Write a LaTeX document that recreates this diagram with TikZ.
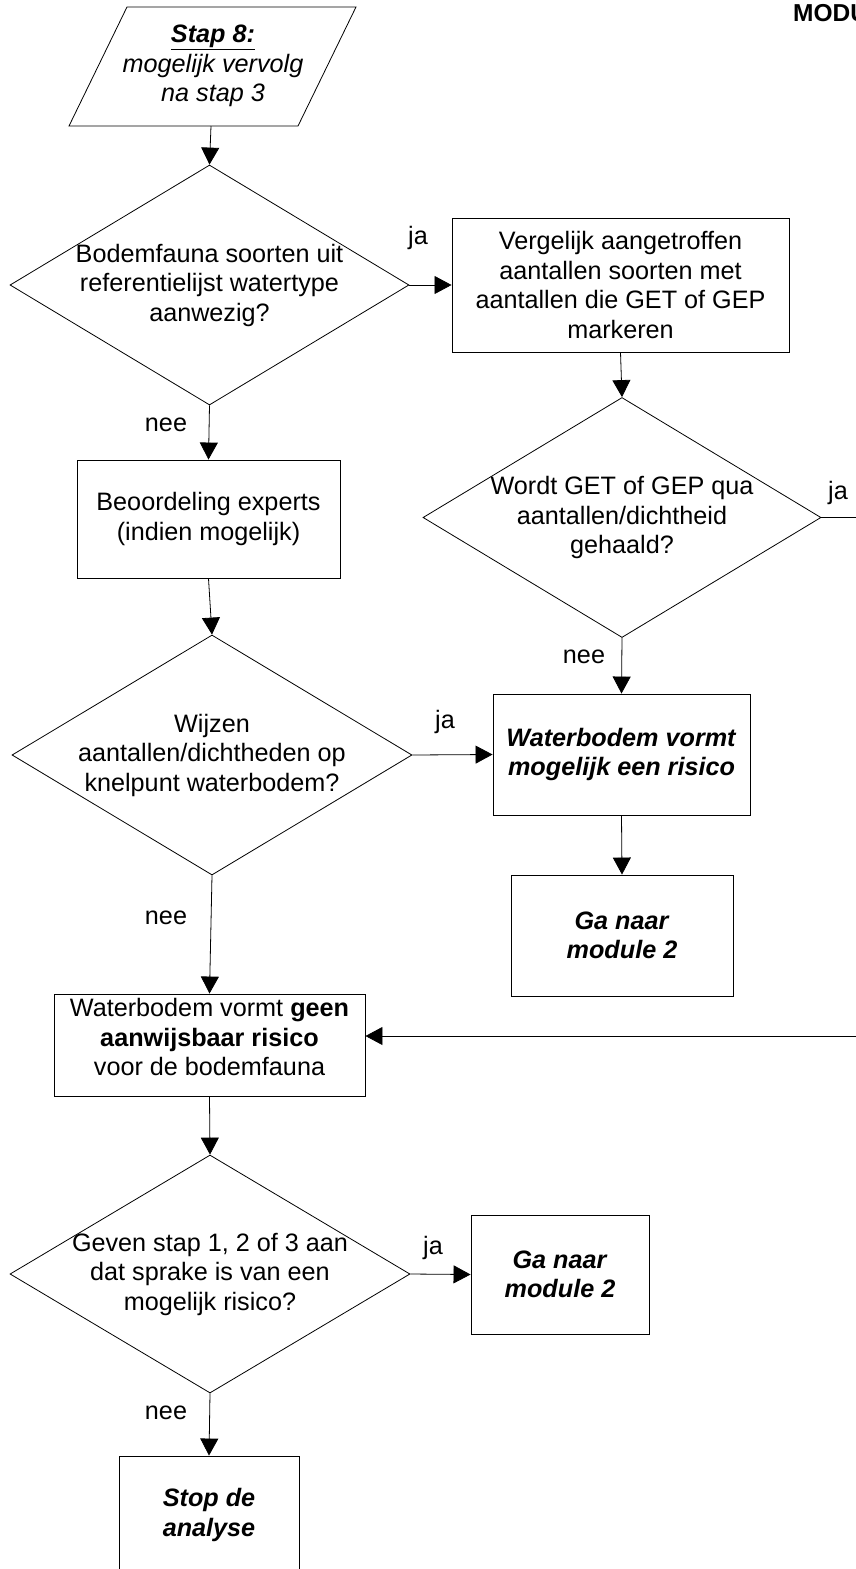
\documentclass[tikz,border=0pt]{standalone}
\usepackage{fontspec}
\setmainfont{Liberation Sans}
\usetikzlibrary{arrows.meta,shapes.geometric,calc}

\begin{document}
\begin{tikzpicture}[x=1pt,y=-1pt,
  every node/.style={font=\fontsize{25.2}{29.5}\selectfont},
  box/.style={draw, line width=0.9pt, align=center, inner sep=0pt},
  dia/.style={draw, diamond, line width=0.8pt, inner sep=0pt},
  txt/.style={align=center, inner sep=0pt},
  lbl/.style={inner sep=0pt},
  flow/.style={line width=0.8pt, -{Triangle[length=17pt,width=18pt]}}]

\useasboundingbox (0,0) rectangle (856,1569);
\clip (0,0) rectangle (856,1569);

% heading at the page edge
\node[anchor=west, inner sep=0pt, font=\fontsize{24.5}{29.5}\selectfont\bfseries] (mod) at (793,13) {MODU};

% start: parallelogram
\draw[line width=0.8pt] (127,7) -- (356,7) -- (298,126) -- (69,126) -- cycle;
\node[txt] (s8) at (213,66) {\textbf{\textit{\underline{Stap 8:}}}\\\textit{mogelijk vervolg}\\\textit{na stap 3}};
\coordinate (s8b) at (211,126);

% decisions
\node[dia, minimum width=399pt, minimum height=240pt,
  label={[txt]center:{Bodemfauna soorten uit\\referentielijst watertype\\aanwezig?}}] (d1) at (209.5,285) {};
\node[dia, minimum width=398pt, minimum height=240pt,
  label={[txt]center:{Wordt GET of GEP qua\\aantallen/dichtheid\\gehaald?}}] (d3) at (622,517.5) {};
\node[dia, minimum width=400pt, minimum height=240pt,
  label={[txt]center:{Wijzen\\aantallen/dichtheden op\\knelpunt waterbodem?}}] (d2) at (212,755) {};
\node[dia, minimum width=400pt, minimum height=238pt,
  label={[txt]center:{Geven stap 1, 2 of 3 aan\\dat sprake is van een\\mogelijk risico?}}] (d4) at (210,1274) {};

% process boxes
\node[box, minimum width=337pt, minimum height=134pt] (b2) at (620.5,285)
  {Vergelijk aangetroffen\\aantallen soorten met\\aantallen die GET of GEP\\markeren};
\node[box, minimum width=263pt, minimum height=118pt] (b1) at (208.5,519)
  {Beoordeling experts\\(indien mogelijk)};
\node[box, minimum width=257pt, minimum height=121pt] (r) at (621.5,754.5)
  {\textbf{\textit{Waterbodem vormt}}\\\textbf{\textit{mogelijk een risico}}};
\node[box, minimum width=222pt, minimum height=121pt] (m1) at (622,935.5)
  {\textbf{\textit{Ga naar}}\\\textbf{\textit{module 2}}};
\node[box, minimum width=311pt, minimum height=102pt,
  label={[txt,yshift=8pt]center:{Waterbodem vormt \textbf{geen}\\\textbf{aanwijsbaar risico}\\voor de bodemfauna}}] (g) at (209.5,1045) {};
\node[box, minimum width=178pt, minimum height=119pt] (m2) at (560,1274.5)
  {\textbf{\textit{Ga naar}}\\\textbf{\textit{module 2}}};
\node[box, minimum width=180pt, minimum height=130pt,
  label={[txt,yshift=6pt]center:{\textbf{\textit{Stop de}}\\\textbf{\textit{analyse}}}}] (s) at (209,1521) {};

\coordinate (gin) at ([yshift=9pt]g.east);

% branch labels
\node[lbl] (ja1) at (418,238) {ja};
\node[lbl] (nee1) at (166,425) {nee};
\node[lbl] (ja3) at (838,493) {ja};
\node[lbl] (nee3) at (584,657) {nee};
\node[lbl] (ja2) at (445,722) {ja};
\node[lbl] (nee2) at (166,918) {nee};
\node[lbl] (ja4) at (433,1248) {ja};
\node[lbl] (nee4) at (166,1413) {nee};

% connectors
\draw[flow] (s8b) -- (d1.north);
\draw[flow] (d1.east) -- (b2.west);
\draw[flow] (b2.south) -- (d3.north);
\draw[flow] (d3.south) -- (r.north);
\draw[flow] (r.south) -- (m1.north);
\draw[flow] (d3.east) -- ++(100,0) |- (gin);
\draw[flow] (d1.south) -- (b1.north);
\draw[flow] (b1.south) -- (d2.north);
\draw[flow] (d2.east) -- (r.west);
\draw[flow] (d2.south) -- (g.north);
\draw[flow] (g.south) -- (d4.north);
\draw[flow] (d4.east) -- (m2.west);
\draw[flow] (d4.south) -- (s.north);
\end{tikzpicture}
\end{document}
